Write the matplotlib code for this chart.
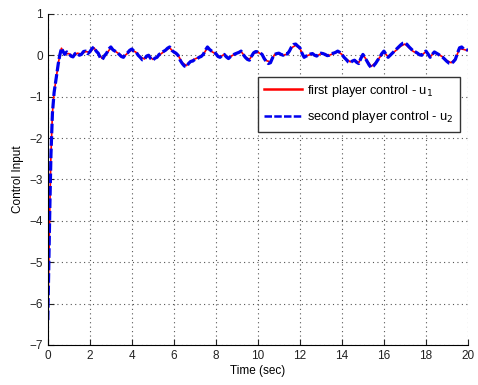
import numpy as np
import matplotlib
matplotlib.use('Agg')
import matplotlib.pyplot as plt

# transient part (sec, value)
t_start = [0.0, 0.05, 0.1, 0.15, 0.22, 0.3, 0.4, 0.5, 0.57, 0.65]
u_start = [-6.4, -5.0, -3.6, -2.4, -1.4, -0.9, -0.55, -0.2, 0.0, 0.17]

# steady part of u2, every 0.1 s from 0.8 to 20
u2_tail = [0.02, 0.08, 0.05, -0.02, -0.04, 0.04, 0.06, 0.0, 0.02, 0.09,
           0.1, 0.04, 0.08, 0.16, 0.2, 0.1, 0.05, -0.06, -0.1, -0.01,
           0.05, 0.15, 0.2, 0.13, 0.1, 0.07, 0.02, -0.03, -0.05, 0.03,
           0.06, 0.12, 0.15, 0.1, 0.08, 0.0, -0.05, -0.11, -0.1, -0.02,
           0.0, -0.08, -0.12, -0.07, -0.05, 0.02, 0.05, 0.09, 0.12, 0.17,
           0.2, 0.12, 0.08, 0.05, 0.0, -0.12, -0.2, -0.26, -0.28, -0.2,
           -0.15, -0.14, -0.1, -0.09, -0.05, -0.03, 0.02, 0.12, 0.2, 0.14,
           0.1, 0.06, 0.04, -0.03, -0.05, 0.0, 0.02, -0.04, -0.08, -0.03,
           0.0, 0.03, 0.05, 0.07, 0.1, 0.02, -0.05, -0.1, -0.12, -0.02,
           0.06, 0.09, 0.08, 0.06, 0.02, -0.08, -0.15, -0.2, -0.18, -0.06,
           0.02, 0.04, 0.05, 0.02, 0.0, 0.04, 0.03, 0.1, 0.2, 0.26,
           0.27, 0.22, 0.18, 0.05, -0.05, -0.02, 0.0, 0.03, 0.04, 0.0,
           -0.02, 0.03, 0.05, 0.04, 0.02, -0.01, 0.0, 0.04, 0.05, 0.07,
           0.1, 0.07, 0.02, -0.05, -0.1, -0.16, -0.18, -0.14, -0.12, -0.17,
           -0.2, -0.08, 0.02, -0.06, -0.15, -0.24, -0.3, -0.26, -0.2, -0.12,
           -0.05, 0.04, 0.1, 0.02, -0.05, 0.0, 0.05, 0.1, 0.15, 0.2,
           0.25, 0.29, 0.3, 0.26, 0.2, 0.15, 0.1, 0.08, 0.05, 0.01,
           0.0, 0.06, 0.1, 0.03, -0.05, 0.02, 0.08, 0.05, 0.02, -0.02,
           -0.05, -0.1, -0.15, -0.19, -0.2, -0.16, -0.1, 0.05, 0.18, 0.2,
           0.15, 0.14, 0.12]

# steady part of u1, every 0.2 s from 0.8 to 20
u1_tail = [0.03, 0.04, -0.03, 0.05, 0.03, 0.09, 0.07, 0.18, 0.04, -0.08,
           0.04, 0.18, 0.1, 0.03, -0.04, 0.05, 0.13, 0.07, -0.04, -0.09,
           -0.01, -0.1, -0.05, 0.04, 0.11, 0.18, 0.07, 0.0, -0.18, -0.25,
           -0.14, -0.09, -0.05, 0.02, 0.18, 0.09, 0.03, -0.04, 0.02, -0.07,
           0.0, 0.05, 0.09, -0.04, -0.1, 0.05, 0.07, 0.02, -0.13, -0.16,
           0.02, 0.04, 0.0, 0.03, 0.18, 0.24, 0.16, -0.04, 0.0, 0.03,
           -0.02, 0.04, 0.02, 0.0, 0.04, 0.09, 0.02, -0.09, -0.16, -0.11,
           -0.18, 0.01, -0.13, -0.27, -0.18, -0.05, 0.08, -0.04, 0.04, 0.13,
           0.22, 0.27, 0.18, 0.09, 0.05, 0.0, 0.09, -0.04, 0.07, 0.02,
           -0.04, -0.13, -0.18, -0.09, 0.16, 0.14, 0.11]

t2 = t_start + list(np.round(0.8 + 0.1 * np.arange(len(u2_tail)), 2))
u2 = u_start + u2_tail
t1 = t_start + list(np.round(0.8 + 0.2 * np.arange(len(u1_tail)), 2))
u1 = u_start + u1_tail

plt.rcParams['font.family'] = ['Liberation Sans', 'DejaVu Sans']

fig = plt.figure(figsize=(4.78, 3.85), dpi=100)
ax = fig.add_axes([0.100, 0.104, 0.879, 0.860])

ax.plot(t1, u1, color='#ff0000', lw=1.2, label='first player control - u$_1$')
ax.plot(t2, u2, color='#0000ee', lw=2.3, ls=(0, (3, 0.9)),
        label='second player control - u$_2$')

ax.set_xlim(0, 20)
ax.set_ylim(-7, 1)
ax.set_xticks(range(0, 21, 2))
ax.set_yticks(range(-7, 2))
ax.grid(True, ls=(0, (1, 3)), color='#555555', lw=0.8)
ax.spines['top'].set_visible(False)
ax.spines['right'].set_visible(False)
ax.tick_params(direction='in', length=4, labelsize=8.5, colors='#222222')
ax.set_xlabel('Time (sec)', fontsize=8.5, labelpad=2)
ax.set_ylabel('Control Input', fontsize=8.5, labelpad=4)

leg = ax.legend(loc='upper right', bbox_to_anchor=(0.997, 0.83),
                fontsize=9.2, fancybox=False, framealpha=1,
                edgecolor='#333333', handlelength=3.0, borderpad=0.5,
                labelspacing=0.8, handletextpad=0.4)
leg.get_frame().set_linewidth(1.0)
for h in leg.get_lines():
    h.set_linewidth(1.8)

fig.savefig('out.png', dpi=100)
